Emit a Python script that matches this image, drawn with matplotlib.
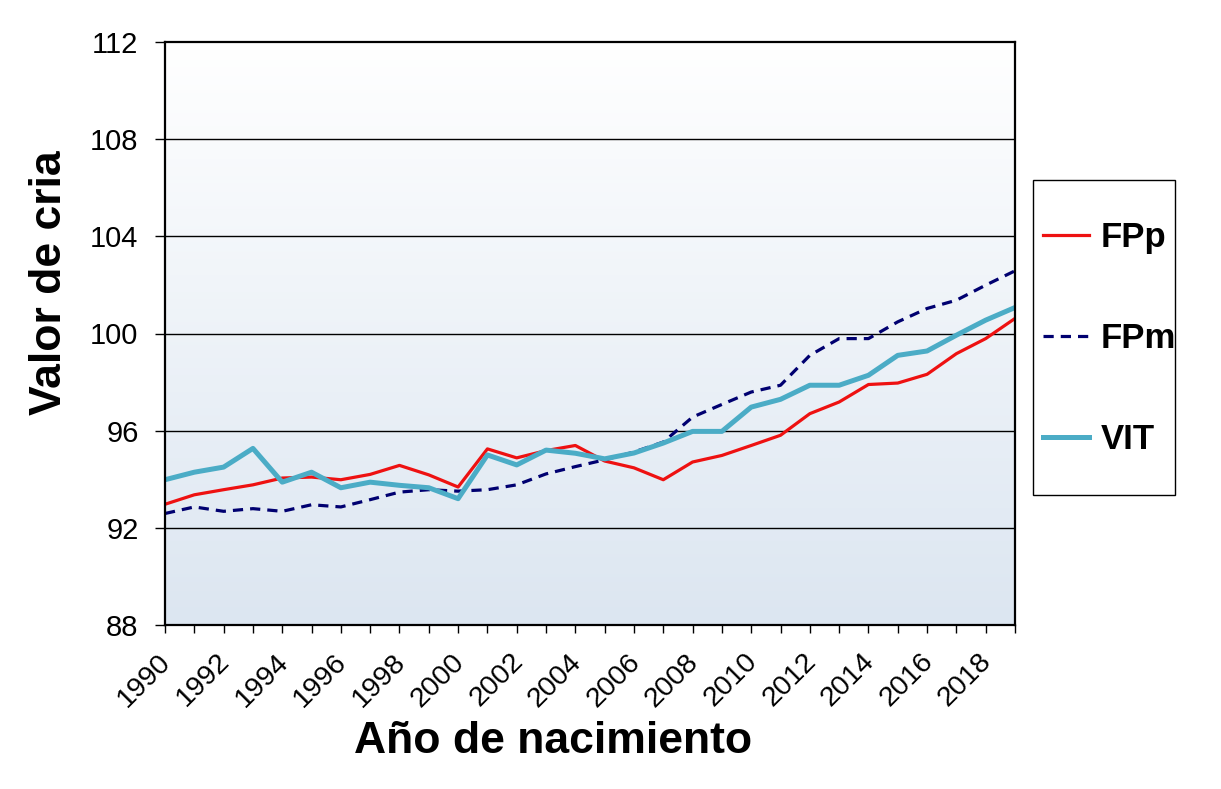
import numpy as np
import matplotlib
matplotlib.use("Agg")
import matplotlib.pyplot as plt
from matplotlib.colors import LinearSegmentedColormap
from matplotlib.patches import Rectangle
from matplotlib.transforms import ScaledTranslation

plt.rcParams['font.family'] = ['Liberation Sans', 'DejaVu Sans']

years = list(range(1990, 2020))
fpp = [92.97, 93.36, 93.57, 93.77, 94.05, 94.09, 93.98, 94.20, 94.57, 94.18,
       93.68, 95.25, 94.88, 95.18, 95.39, 94.75, 94.47, 93.98, 94.71, 94.98,
       95.39, 95.81, 96.70, 97.18, 97.90, 97.96, 98.32, 99.17, 99.79, 100.62]
fpm = [92.59, 92.86, 92.68, 92.79, 92.68, 92.95, 92.86, 93.16, 93.47, 93.57,
       93.51, 93.57, 93.77, 94.22, 94.52, 94.80, 95.12, 95.53, 96.56, 97.08,
       97.59, 97.87, 99.10, 99.79, 99.79, 100.48, 101.03, 101.37, 101.99, 102.58]
vit = [93.98, 94.29, 94.50, 95.27, 93.88, 94.29, 93.65, 93.88, 93.75, 93.65,
       93.20, 95.00, 94.59, 95.20, 95.07, 94.84, 95.08, 95.49, 95.97, 95.97,
       96.97, 97.29, 97.87, 97.87, 98.28, 99.10, 99.28, 99.93, 100.55, 101.07]
series_names = ['FPp', 'FPm', 'VIT']
y_ticks = [88, 92, 96, 100, 104, 108, 112]
x_tick_labels = [str(y) for y in range(1990, 2019, 2)]

fig = plt.figure(figsize=(12.21, 7.89), dpi=100)
ax = fig.add_axes([165/1221, 1-625/789, 850/1221, 583/789])

cmap = LinearSegmentedColormap.from_list('bg', ['#FFFFFF', '#DCE6F1'])
ax.imshow(np.linspace(1, 0, 256).reshape(-1, 1), extent=[1990, 2019, 88, 112],
          aspect='auto', cmap=cmap, origin='lower', zorder=0)

for yv in y_ticks[1:-1]:
    ax.axhline(yv, color='black', lw=1.0, zorder=1)

l1, = ax.plot(years, fpp, color='#EE1111', lw=2.3, zorder=3, label=series_names[0])
l2, = ax.plot(years, fpm, color='#000070', lw=2.3, ls=(0, (3.2, 2.2)), zorder=3, label=series_names[1])
l3, = ax.plot(years, vit, color='#4BACC6', lw=3.6, zorder=4, label=series_names[2])

ax.set_xlim(1990, 2019)
ax.set_ylim(88, 112)
ax.set_yticks(y_ticks)
ax.set_yticklabels([str(v) for v in y_ticks], fontsize=21)
ax.set_xticks(list(range(1990, 2019, 2)))
ax.set_xticklabels(x_tick_labels, fontsize=20.5, rotation=45, ha='right',
                   rotation_mode='anchor')
ax.set_xticks(list(range(1991, 2020, 2)), minor=True)
ax.tick_params(axis='y', length=7, width=1, pad=12, direction='out')
ax.tick_params(axis='x', which='both', length=6, width=1, pad=11, direction='out')
off = ScaledTranslation(-7/100, 0, fig.dpi_scale_trans)
for lab in ax.get_xticklabels():
    lab.set_transform(lab.get_transform() + off)

for s in ax.spines.values():
    s.set_linewidth(1.6)
    s.set_color('black')
    s.set_zorder(5)

ax.set_ylabel('Valor de cria', fontsize=32, fontweight='bold')
ax.yaxis.set_label_coords(-0.112, 0.587)
ax.set_xlabel('Año de nacimiento', fontsize=32, fontweight='bold')
ax.xaxis.set_label_coords(0.456, -0.165)

# legend frame
fig.patches.append(Rectangle((1033/1221, 1-495/789), 142/1221, 315/789,
                             transform=fig.transFigure, fill=False,
                             edgecolor='black', lw=1.0))
leg = fig.legend(handles=[l1, l2, l3], labels=series_names,
                 loc='upper left', bbox_to_anchor=(1026/1221, 1-204/789),
                 frameon=False, prop={'size': 25, 'weight': 'bold'},
                 handlelength=1.3, handletextpad=0.35, labelspacing=1.95,
                 borderpad=0.0)

fig.savefig('out.png', dpi=100, facecolor='white')
